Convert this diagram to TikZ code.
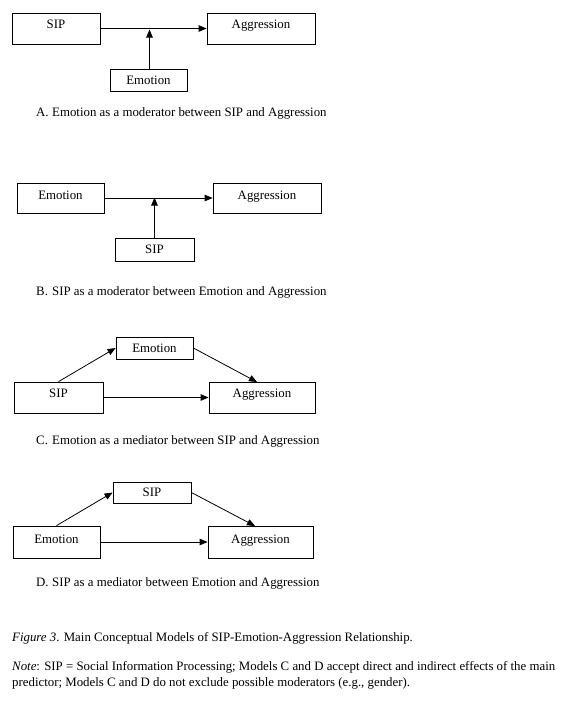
\documentclass[tikz,border=0pt]{standalone}
\usepackage{fontspec}
\setmainfont{Liberation Serif}
\usetikzlibrary{arrows.meta}
\begin{document}
\begin{tikzpicture}[x=1pt,y=-1pt,
  every node/.style={font=\fontsize{12.85}{15}\selectfont, inner sep=0pt},
  box/.style={draw, line width=0.8pt},
  up4/.style={text height=9pt, text depth=9pt},
  up3/.style={text height=9pt, text depth=7pt},
  arr/.style={line width=0.8pt, -{Triangle[length=8pt,width=6.5pt]}},
  captxt/.style={anchor=base west}]
\useasboundingbox (0,0) rectangle (569,707);
% A
\node[box,up4,minimum width=88pt,minimum height=31pt] (sipA) at (56,28.5) {SIP};
\node[box,up4,minimum width=108pt,minimum height=31pt] (aggA) at (261,28.5) {Aggression};
\node[box,minimum width=77pt,minimum height=22pt] (emoA) at (148.5,80) {Emotion};
\coordinate (mA) at (149.5,29.5);
\draw[arr] (sipA) -- (aggA);
\draw[arr] (mA |- emoA.north) -- (mA);
\node[captxt] (capAl) at (36,116.5) {A.};
\node[captxt] (capA) at (52,116.5) {Emotion as a moderator between SIP and Aggression};
% B
\node[box,up3,minimum width=87pt,minimum height=30pt] (emoB) at (60.5,198) {Emotion};
\node[box,up3,minimum width=108pt,minimum height=30pt] (aggB) at (267,198) {Aggression};
\node[box,minimum width=79pt,minimum height=23pt] (sipB) at (154.5,249.5) {SIP};
\coordinate (mB) at (154.5,197.5);
\draw[arr] (emoB) -- (aggB);
\draw[arr] (mB |- sipB.north) -- (mB);
\node[captxt] (capBl) at (36,295.5) {B.};
\node[captxt] (capB) at (52,295.5) {SIP as a moderator between Emotion and Aggression};
% C
\node[box,minimum width=77pt,minimum height=22pt] (emoC) at (154.5,348) {Emotion};
\node[box,up4,minimum width=89pt,minimum height=31pt] (sipC) at (58.5,397.5) {SIP};
\node[box,up4,minimum width=106pt,minimum height=31pt] (aggC) at (262,397.5) {Aggression};
\coordinate (tC) at (257,382);
\draw[arr] (sipC.north) -- (emoC.west);
\draw[arr] (emoC.east) -- (tC);
\draw[arr] (sipC) -- (aggC);
\node[captxt] (capCl) at (36,444.5) {C.};
\node[captxt] (capC) at (52,444.5) {Emotion as a mediator between SIP and Aggression};
% D
\node[box,minimum width=78pt,minimum height=21pt] (sipD) at (152,492.5) {SIP};
\node[box,up3,minimum width=87pt,minimum height=32pt] (emoD) at (56.5,542) {Emotion};
\node[box,up3,minimum width=105pt,minimum height=32pt] (aggD) at (260.5,542) {Aggression};
\coordinate (tD) at (255,526);
\draw[arr] (emoD.north) -- (sipD.west);
\draw[arr] (sipD.east) -- (tD);
\draw[arr] (emoD) -- (aggD);
\node[captxt] (capDl) at (36,586.5) {D.};
\node[captxt] (capD) at (52,586.5) {SIP as a mediator between Emotion and Aggression};
% Figure caption and note
\node[captxt] (fig) at (12,641.5) {\textit{Figure 3}. Main Conceptual Models of SIP-Emotion-Aggression Relationship.};
\node[captxt] (note1) at (12,670.5) {\textit{Note}: SIP = Social Information Processing; Models C and D accept direct and indirect effects of the main};
\node[captxt] (note2) at (12,686.5) {predictor; Models C and D do not exclude possible moderators (e.g., gender).};
\end{tikzpicture}
\end{document}
